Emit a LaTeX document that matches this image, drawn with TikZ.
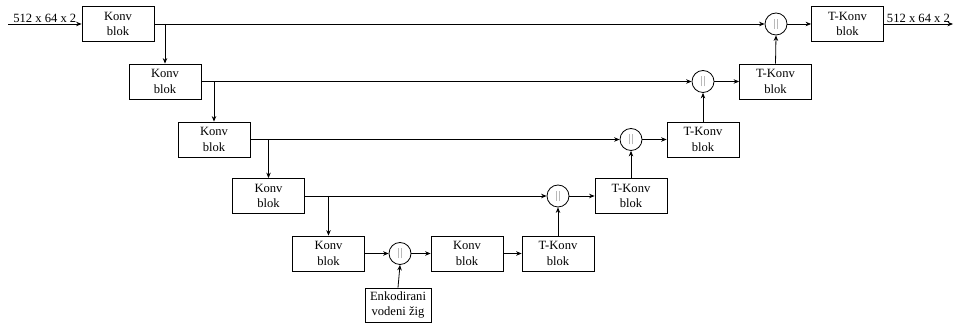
\documentclass[tikz,border=0pt]{standalone}
\usepackage{fontspec}
\setmainfont{Liberation Serif}
\usepackage{xcolor}
\usepackage{tikz}
\usetikzlibrary{shapes, positioning, arrows.meta}
\newcommand{\konkat}{{\color{gray!55}\rule{0.8pt}{10pt}\hspace{1.6pt}\rule{0.8pt}{10pt}}}

\begin{document}
\begin{tikzpicture}[x=1pt, y=1pt,
        blok/.style = {draw, line width=0.8pt, minimum width=72pt, minimum height=35pt, align=center, inner sep=1pt, font=\fontsize{12.6}{15.5}\selectfont},
        spoj/.style = {draw, circle, line width=0.8pt, minimum size=22pt, inner sep=0pt},
        every path/.style = {line width=0.8pt},
        strel/.style = {-{Stealth[length=5.5pt, width=4.5pt]}}]
        \useasboundingbox (0,0) rectangle (955,323);

        % Koder
        \node[blok] (konv1) at (118,299) {Konv\\blok};
        \node[blok] (konv2) at (165,241.5) {Konv\\blok};
        \node[blok] (konv3) at (214,183.5) {Konv\\blok};
        \node[blok] (konv4) at (268.5,127) {Konv\\blok};
        \node[blok] (konv5) at (328.5,69.5) {Konv\\blok};

        % Dno
        \node[spoj] (spoj5) at (400,69.5) {\konkat};
        \node[blok, minimum width=66pt, minimum height=34pt] (zig) at (398,18) {Enkodirani\\vodeni žig};
        \node[blok] (konvb) at (467,69.5) {Konv\\blok};
        \node[blok] (tkonv5) at (558,69.5) {T-Konv\\blok};

        % Dekoder
        \node[spoj] (spoj4) at (558,127) {\konkat};
        \node[blok] (tkonv4) at (631,127) {T-Konv\\blok};
        \node[spoj] (spoj3) at (631,183.5) {\konkat};
        \node[blok] (tkonv3) at (703,183.5) {T-Konv\\blok};
        \node[spoj] (spoj2) at (703,241.5) {\konkat};
        \node[blok] (tkonv2) at (775.5,241.5) {T-Konv\\blok};
        \node[spoj] (spoj1) at (776,299) {\konkat};
        \node[blok] (tkonv1) at (847.5,299) {T-Konv\\blok};

        % Ulaz i izlaz
        \coordinate (ulaz) at (8,299);
        \coordinate (izlaz) at (953,299);
        \draw[strel] (ulaz) -- node[midway, above, font=\fontsize{12.6}{15.5}\selectfont, inner sep=1pt] {512 x 64 x 2} (konv1.west);
        \draw[strel] (tkonv1.east) -- node[midway, above, font=\fontsize{12.6}{15.5}\selectfont, inner sep=1pt] {512 x 64 x 2} (izlaz);

        % Preskocne veze
        \draw[strel] (konv1.east) -- (spoj1.west);
        \draw[strel] (konv2.east) -- (spoj2.west);
        \draw[strel] (konv3.east) -- (spoj3.west);
        \draw[strel] (konv4.east) -- (spoj4.west);
        \draw[strel] (konv5.east) -- (spoj5.west);

        % Silazne strelice
        \draw[strel] (konv1.east -| konv2.north) -- (konv2.north);
        \draw[strel] (konv2.east -| konv3.north) -- (konv3.north);
        \draw[strel] (konv3.east -| konv4.north) -- (konv4.north);
        \draw[strel] (konv4.east -| konv5.north) -- (konv5.north);

        % Uzlazni dio
        \draw[strel] (zig.north) -- (spoj5.south);
        \draw[strel] (spoj5.east) -- (konvb.west);
        \draw[strel] (konvb.east) -- (tkonv5.west);
        \draw[strel] (tkonv5.north) -- (spoj4.south);
        \draw[strel] (spoj4.east) -- (tkonv4.west);
        \draw[strel] (tkonv4.north) -- (spoj3.south);
        \draw[strel] (spoj3.east) -- (tkonv3.west);
        \draw[strel] (tkonv3.north) -- (spoj2.south);
        \draw[strel] (spoj2.east) -- (tkonv2.west);
        \draw[strel] (tkonv2.north) -- (spoj1.south);
        \draw[strel] (spoj1.east) -- (tkonv1.west);
    \end{tikzpicture}
\end{document}
